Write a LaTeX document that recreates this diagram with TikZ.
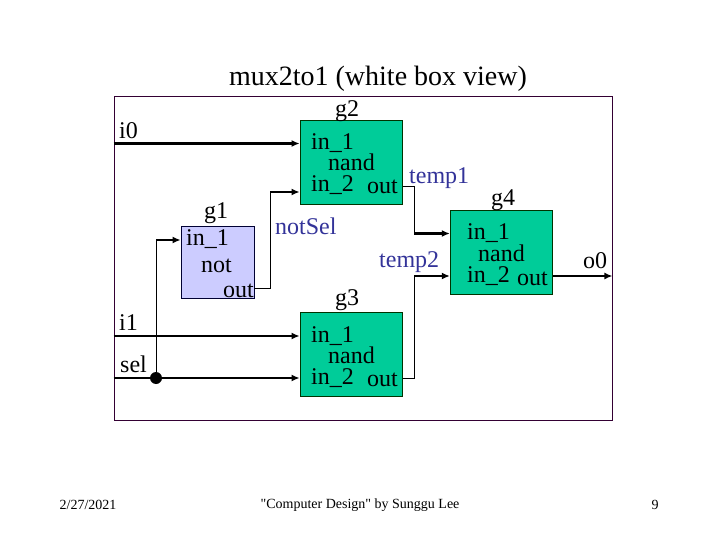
\documentclass[tikz,border=0pt]{standalone}
\usepackage{fontspec}
\setmainfont{Liberation Serif}
\newfontfamily\plainquotes{Liberation Serif}
\usepackage{xcolor}
\usetikzlibrary{arrows.meta, positioning}
\definecolor{gatecolor}{HTML}{00CC99}
\definecolor{notcolor}{HTML}{CCCCFF}
\definecolor{framecolor}{HTML}{330033}
\definecolor{netcolor}{HTML}{333399}

\begin{document}
\begin{tikzpicture}[
    x=1pt, y=-1pt,
    gate/.style={rectangle, draw=black!80!green, fill=gatecolor, line width=0.8pt, inner sep=0pt, minimum width=102.5pt, minimum height=84pt},
    notgate/.style={rectangle, draw=black!80!blue, fill=notcolor, line width=0.8pt, inner sep=0pt, minimum width=73pt, minimum height=72pt},
    frame/.style={rectangle, draw=framecolor, line width=0.9pt, inner sep=0pt, minimum width=498pt, minimum height=324pt},
    txt/.style={inner sep=0pt, font=\fontsize{24}{24}\selectfont},
    net/.style={txt, text=netcolor},
    thinwire/.style={draw, line width=0.9pt},
    wire/.style={draw, line width=2.2pt, -{Latex[length=8pt,width=7pt]}},
    foot/.style={inner sep=0pt, font=\fontsize{14}{14}\selectfont}
    ]
    \useasboundingbox (0,0) rectangle (720,540);

    % Frame and gates
    \node [frame] (mux) at (363,258) {};
    \node [gate] (g2) at (351.25,162.25) {};
    \node [notgate] (g1) at (217.5,262) {};
    \node [gate] (g3) at (351.25,354.25) {};
    \node [gate] (g4) at (501.5,252.25) {};

    % Title and footer
    \node [inner sep=0pt, font=\fontsize{28}{28}\selectfont] (title) at (378,79) {mux2to1 (white box view)};
    \node [foot] (date) at (88,505) {2/27/2021};
    \node [foot] (credit) at (360,505) {\plainquotes "Computer Design" by Sunggu Lee};
    \node [foot] (page) at (655,505) {9};

    % Gate names
    \node [txt] (g2name) at (347,111) {g2};
    \node [txt] (g1name) at (216,213) {g1};
    \node [txt] (g3name) at (347,300) {g3};
    \node [txt] (g4name) at (503,200) {g4};

    % Inside g2
    \node [txt, anchor=base west] (g2a) at (311,150) {in\_1};
    \node [txt, anchor=base west] (g2b) at (328,171) {nand};
    \node [txt, anchor=base west] (g2c) at (311,192) {in\_2};
    \node [txt, anchor=base west] (g2d) at (367,194) {out};

    % Inside g1
    \node [txt, anchor=base west] (g1a) at (186,245) {in\_1};
    \node [txt, anchor=base west] (g1b) at (201,272) {not};
    \node [txt, anchor=base west] (g1c) at (223,297) {out};

    % Inside g3
    \node [txt, anchor=base west] (g3a) at (311,342) {in\_1};
    \node [txt, anchor=base west] (g3b) at (328,363) {nand};
    \node [txt, anchor=base west] (g3c) at (311,384) {in\_2};
    \node [txt, anchor=base west] (g3d) at (367,386) {out};

    % Inside g4
    \node [txt, anchor=base west] (g4a) at (467,240) {in\_1};
    \node [txt, anchor=base west] (g4b) at (478,261) {nand};
    \node [txt, anchor=base west] (g4c) at (467,282) {in\_2};
    \node [txt, anchor=base west] (g4d) at (517,285) {out};

    % Ports and nets
    \node [txt, anchor=base west] (i0) at (119,139) {i0};
    \node [txt, anchor=base west] (i1) at (119,330) {i1};
    \node [txt, anchor=base west] (sel) at (120,372) {sel};
    \node [txt, anchor=base west] (o0) at (583,268) {o0};
    \node [net, anchor=base west] (notSel) at (275,234) {notSel};
    \node [net, anchor=base west] (temp1) at (409,184) {temp1};
    \node [net, anchor=base west] (temp2) at (379,267) {temp2};

    % Corners of the wires
    \coordinate (i0in) at (mux.west |- 0,143.5);
    \coordinate (i1in) at (mux.west |- 0,336);
    \coordinate (selin) at (mux.west |- 0,378);
    \coordinate (seldot) at (156,378);
    \coordinate (g1in) at (156,240);
    \coordinate (g1out) at (g1.east |- 0,288);
    \coordinate (nsa) at (270,288);
    \coordinate (nsb) at (270,192);
    \coordinate (g2out) at (g2.east |- 0,186);
    \coordinate (ta) at (414,186);
    \coordinate (tb) at (414,233.5);
    \coordinate (g3out) at (g3.east |- 0,378);
    \coordinate (tc) at (414,378);
    \coordinate (td) at (414,276);
    \coordinate (g4out) at (g4.east |- 0,276);

    % Draw edges
    \path [wire] (i0in) -- (g2.west |- i0in);
    \path [wire] (i1in) -- (g3.west |- i1in);
    \path [wire] (selin) -- (g3.west |- selin);
    \path [thinwire] (seldot) -- (g1in);
    \path [wire] (g1in) -- (g1.west |- g1in);
    \path [thinwire] (g1out) -- (nsa) -- (nsb);
    \path [wire] (nsb) -- (g2.west |- nsb);
    \path [thinwire] (g2out) -- (ta) -- (tb);
    \path [wire] (tb) -- (g4.west |- tb);
    \path [thinwire] (g3out) -- (tc) -- (td);
    \path [wire] (td) -- (g4.west |- td);
    \path [wire] (g4out) -- (mux.east |- g4out);
    \fill (seldot) circle (6pt);

\end{tikzpicture}
\end{document}
